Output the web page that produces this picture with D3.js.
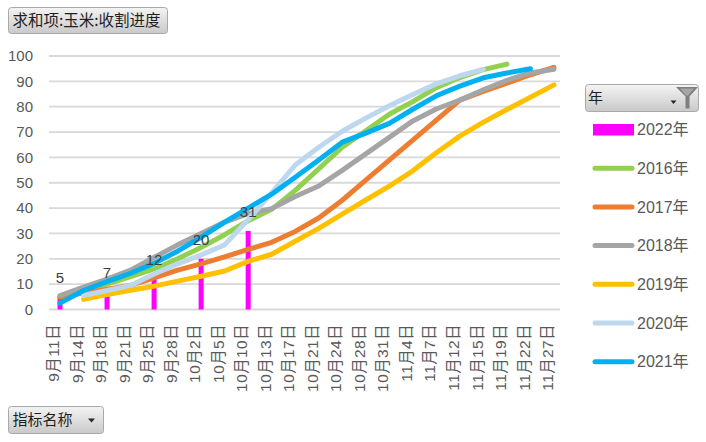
<!DOCTYPE html>
<html>
<head>
<meta charset="utf-8">
<script src="https://cdn.jsdelivr.net/npm/d3@7/dist/d3.min.js"></script>
<style>
  html, body { margin: 0; padding: 0; background: #fff; }
  svg { display: block; }
</style>
</head>
<body>
<svg id="chart" width="706" height="442"></svg>
<script>
// ---------- DATA ----------
const categories = ["9月11日","9月14日","9月18日","9月21日","9月25日","9月28日","10月2日","10月5日","10月10日","10月13日","10月17日","10月21日","10月24日","10月28日","10月31日","11月4日","11月7日","11月12日","11月15日","11月19日","11月22日","11月27日"];
const yTicks = [0,10,20,30,40,50,60,70,80,90,100];

const barName = "2022年";
const bar2022 = [5,null,7,null,12,null,20,null,31,null,null,null,null,null,null,null,null,null,null,null,null,null];

const lineNames = ["2016年","2017年","2018年","2019年","2020年","2021年"];
const s2016 = [5,7.5,10,13,16,20,24.5,29.5,35,39.5,47,55.5,64,70.5,77,82,87.5,91.5,94.6,96.8];
const s2017 = [5,6.5,8,9.5,12.5,15.5,18,20.8,23.7,26.5,30.8,36.1,43.1,51,58.9,66.8,74.7,82.6,86,89.3,92.6,95.5];
const s2018 = [5.5,8.8,12,15.5,20.5,25.5,30,34.5,37.8,39.8,44.6,48.7,54.9,61.4,67.9,74.4,79.1,82.6,86.7,90.4,93.3,94.8];
const s2019 = [null,4,5.9,7.6,9.2,11.2,13.1,15.2,19,21.8,26.9,32,37.6,43.2,48.7,54.7,61.8,68.4,73.9,78.9,83.7,88.6];
const s2020 = [null,5.5,7.5,9.5,14,18,21.5,25.5,35.5,46,57,64,70.3,75.5,80.4,84.8,89,92.2,94.7];
const s2021 = [2.5,7.5,11,14.3,18.2,23,28.5,34.5,40,45.5,52.2,59,66,69.6,73.4,79,84.3,88.1,91.4,93.3,95];

const lineSeries = [s2016, s2017, s2018, s2019, s2020, s2021];
const lineColors = ["#92D050","#ED7D31","#A5A5A5","#FFC000","#BDD7EE","#00B0F0"];
const barColor = "#FF00FF";

// ---------- LAYOUT ----------
const svg = d3.select("#chart");
const numFont = "'Liberation Sans','Noto Sans CJK SC',sans-serif";
const cjkFont = "'Noto Sans CJK SC','Liberation Sans',sans-serif";
const plotLeft = 49, plotRight = 560;

const x = d3.scaleBand().domain(categories).range([48.24, 565.7]).padding(0);
const xc = c => x(c) + x.bandwidth() / 2;
const y = d3.scaleLinear().domain([0, 100]).range([309.5, 56]);

const defs = svg.append("defs");
const grad = defs.append("linearGradient").attr("id","btnGrad").attr("x1",0).attr("y1",0).attr("x2",0).attr("y2",1);
grad.append("stop").attr("offset","0%").attr("stop-color","#f4f4f4");
grad.append("stop").attr("offset","100%").attr("stop-color","#c9c9c9");

// gridlines
svg.append("g").selectAll("line").data(yTicks).join("line")
  .attr("x1", plotLeft).attr("x2", plotRight)
  .attr("y1", d => y(d)).attr("y2", d => y(d))
  .attr("stroke", "#d9d9d9").attr("stroke-width", 1.8);

// y axis labels
const yAxis = svg.append("g").attr("transform", "translate(33,0)")
  .call(d3.axisLeft(y).tickValues(yTicks).tickSize(0).tickPadding(0));
yAxis.select(".domain").remove();
yAxis.selectAll("text").attr("font-family", numFont).attr("font-size", 15).attr("fill", "#595959");

// x axis labels
const xAxis = svg.append("g").attr("transform", "translate(-6.3,324)")
  .call(d3.axisBottom(x).tickSize(0).tickPadding(0));
xAxis.select(".domain").remove();
xAxis.selectAll("text")
  .attr("font-family", numFont).attr("font-size", 15.5).attr("fill", "#595959")
  .attr("letter-spacing", "0.4px")
  .attr("transform", "rotate(-90)")
  .attr("text-anchor", "end")
  .attr("x", 0).attr("y", 0).attr("dy", "0.35em");

// bars
const barW = 5;
const barData = categories.map((c, i) => ({ c, v: bar2022[i] })).filter(d => d.v != null);
svg.append("g").selectAll("rect").data(barData).join("rect")
  .attr("x", d => xc(d.c) - barW / 2)
  .attr("width", barW)
  .attr("y", d => y(d.v))
  .attr("height", d => y(0) - y(d.v))
  .attr("fill", barColor);

// lines
const line = d3.line()
  .defined(d => d.v != null)
  .x(d => xc(d.c))
  .y(d => y(d.v));
lineSeries.forEach((s, k) => {
  const data = categories.map((c, i) => ({ c, v: i < s.length ? s[i] : null }));
  svg.append("path").datum(data)
    .attr("d", line)
    .attr("fill", "none")
    .attr("stroke", lineColors[k])
    .attr("stroke-width", 5)
    .attr("stroke-linecap", "round")
    .attr("stroke-linejoin", "round");
});

// data labels for bars
svg.append("g").selectAll("text").data(barData).join("text")
  .attr("x", d => xc(d.c))
  .attr("y", d => y(d.v) - 19)
  .attr("dy", "0.35em")
  .attr("text-anchor", "middle")
  .attr("font-family", numFont).attr("font-size", 15).attr("fill", "#404040")
  .text(d => d.v);

// ---------- BUTTONS ----------
function button(x0, y0, w, h) {
  svg.append("rect").attr("x", x0).attr("y", y0).attr("width", w).attr("height", h)
    .attr("rx", 3).attr("ry", 3)
    .attr("fill", "url(#btnGrad)").attr("stroke", "#a9a9a9").attr("stroke-width", 1);
}
button(8.5, 7.5, 159, 26);
svg.append("text").attr("x", 12.5).attr("y", 20.8).attr("dy", "0.35em")
  .attr("font-family", cjkFont).attr("font-size", 15.5).attr("fill", "#1f1f1f")
  .text("求和项:玉米:收割进度");

button(8.5, 406.5, 95, 27);
svg.append("text").attr("x", 12.5).attr("y", 420).attr("dy", "0.35em")
  .attr("font-family", cjkFont).attr("font-size", 15).attr("fill", "#1f1f1f")
  .text("指标名称");
svg.append("path").attr("d", "M88,418.5 L95,418.5 L91.5,422.5 Z").attr("fill", "#262626");

// legend filter button
button(585.5, 84.5, 113, 27);
svg.append("text").attr("x", 588).attr("y", 98).attr("dy", "0.35em")
  .attr("font-family", cjkFont).attr("font-size", 15).attr("fill", "#1f1f1f")
  .text("年");
svg.append("path").attr("d", "M670.5,100.5 L676.5,100.5 L673.5,104 Z").attr("fill", "#262626");
svg.append("path").attr("d", "M676,87 L698,87 L689.5,96.5 L689.5,108.5 L685.5,108.5 L685.5,96.5 Z")
  .attr("fill", "#7f7f7f");
svg.append("path").attr("d", "M680,88.5 L694,88.5 L688,95.5 L686,95.5 Z").attr("fill", "#a6a6a6");

// ---------- LEGEND ----------
const legendItems = [{ name: barName, color: barColor, bar: true }]
  .concat(lineNames.map((n, k) => ({ name: n, color: lineColors[k], bar: false })));
const leg = svg.append("g");
legendItems.forEach((d, i) => {
  const cy = 129.5 + i * 38.7;
  if (d.bar) {
    leg.append("rect").attr("x", 593).attr("y", cy - 5.5).attr("width", 41).attr("height", 11.5).attr("fill", d.color);
  } else {
    leg.append("line").attr("x1", 595).attr("x2", 632).attr("y1", cy).attr("y2", cy)
      .attr("stroke", d.color).attr("stroke-width", 5).attr("stroke-linecap", "round");
  }
  leg.append("text").attr("x", 637).attr("y", cy).attr("dy", "0.35em")
    .attr("font-family", numFont).attr("font-size", 16).attr("fill", "#595959")
    .text(d.name);
});
</script>
</body>
</html>
